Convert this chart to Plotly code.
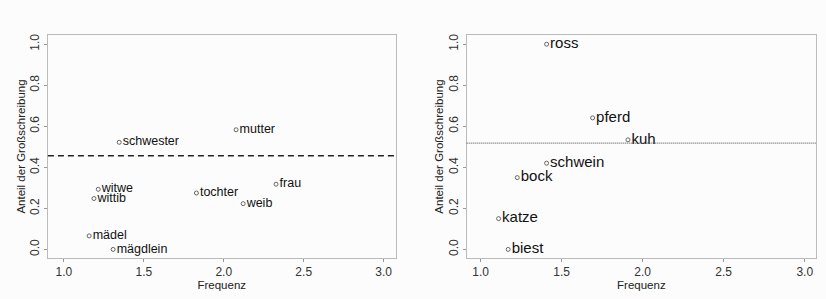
import plotly.graph_objects as go

# Left panel (Personen)
left_words = ["schwester", "mutter", "witwe", "wittib", "tochter", "frau", "weib", "mädel", "mägdlein"]
left_freq = [1.346, 2.077, 1.215, 1.188, 1.829, 2.327, 2.121, 1.158, 1.308]
left_share = [0.522, 0.583, 0.293, 0.248, 0.275, 0.318, 0.223, 0.066, 0.0]
left_mean = 0.456

# Right panel (Tiere)
right_words = ["ross", "pferd", "kuh", "schwein", "bock", "katze", "biest"]
right_freq = [1.407, 1.691, 1.909, 1.407, 1.226, 1.111, 1.170]
right_share = [1.0, 0.641, 0.534, 0.420, 0.350, 0.150, 0.0]
right_mean = 0.518

x_ticks = [1.0, 1.5, 2.0, 2.5, 3.0]
y_ticks = [0.0, 0.2, 0.4, 0.6, 0.8, 1.0]
x_title = "Frequenz"
y_title = "Anteil der Großschreibung"

FONT = "Liberation Sans, Arial, sans-serif"
fig = go.Figure()

fig.add_trace(go.Scatter(
    x=left_freq, y=left_share, text=left_words, mode="markers+text",
    textposition="middle right",
    marker=dict(symbol="circle-open", size=4, color="#666", line=dict(width=1)),
    textfont=dict(family=FONT, size=12.5, color="#111"),
    xaxis="x", yaxis="y", showlegend=False, cliponaxis=False))
fig.add_trace(go.Scatter(
    x=right_freq, y=right_share, text=right_words, mode="markers+text",
    textposition="middle right",
    marker=dict(symbol="circle-open", size=4, color="#666", line=dict(width=1)),
    textfont=dict(family=FONT, size=15, color="#111"),
    xaxis="x2", yaxis="y2", showlegend=False, cliponaxis=False))

fig.add_shape(type="line", xref="x domain", yref="y", x0=0, x1=1, y0=left_mean, y1=left_mean,
              line=dict(color="#222", width=1.5, dash="6px,4px"))
fig.add_shape(type="line", xref="x2 domain", yref="y2", x0=0, x1=1, y0=right_mean, y1=right_mean,
              line=dict(color="#444", width=1, dash="1px,1px"))

ax_common = dict(showgrid=False, zeroline=False, showline=True, mirror=True,
                 linecolor="#bbbbbb", linewidth=1, ticks="outside", ticklen=3,
                 tickcolor="#999", tickfont=dict(family=FONT, size=12, color="#333"),
                 title_font=dict(family=FONT, size=11.5, color="#222"))

fig.update_layout(
    width=826, height=299,
    margin=dict(l=0, r=0, t=0, b=0),
    paper_bgcolor="#fcfcfc", plot_bgcolor="#fcfcfc",
    xaxis=dict(domain=[0.058, 0.479], anchor="y", range=[0.9, 3.075],
               tickvals=x_ticks, ticktext=[f"{v:.1f}" for v in x_ticks],
               title=dict(text=x_title, standoff=0), **ax_common),
    yaxis=dict(domain=[0.137, 0.883], anchor="x", range=[-0.042, 1.045],
               tickvals=y_ticks, ticktext=[f"{v:.1f}" for v in y_ticks], tickangle=-90,
               title=dict(text=y_title, standoff=0), **ax_common),
    xaxis2=dict(domain=[0.565, 0.988], anchor="y2", range=[0.914, 3.07],
                tickvals=x_ticks, ticktext=[f"{v:.1f}" for v in x_ticks],
                title=dict(text=x_title, standoff=0), **ax_common),
    yaxis2=dict(domain=[0.137, 0.883], anchor="x2", range=[-0.042, 1.045],
                tickvals=y_ticks, ticktext=[f"{v:.1f}" for v in y_ticks], tickangle=-90,
                title=dict(text=y_title, standoff=0), **ax_common),
)

fig.write_html("out.html", config={"displayModeBar": False},
               post_script="document.body.style.margin='0px';")
